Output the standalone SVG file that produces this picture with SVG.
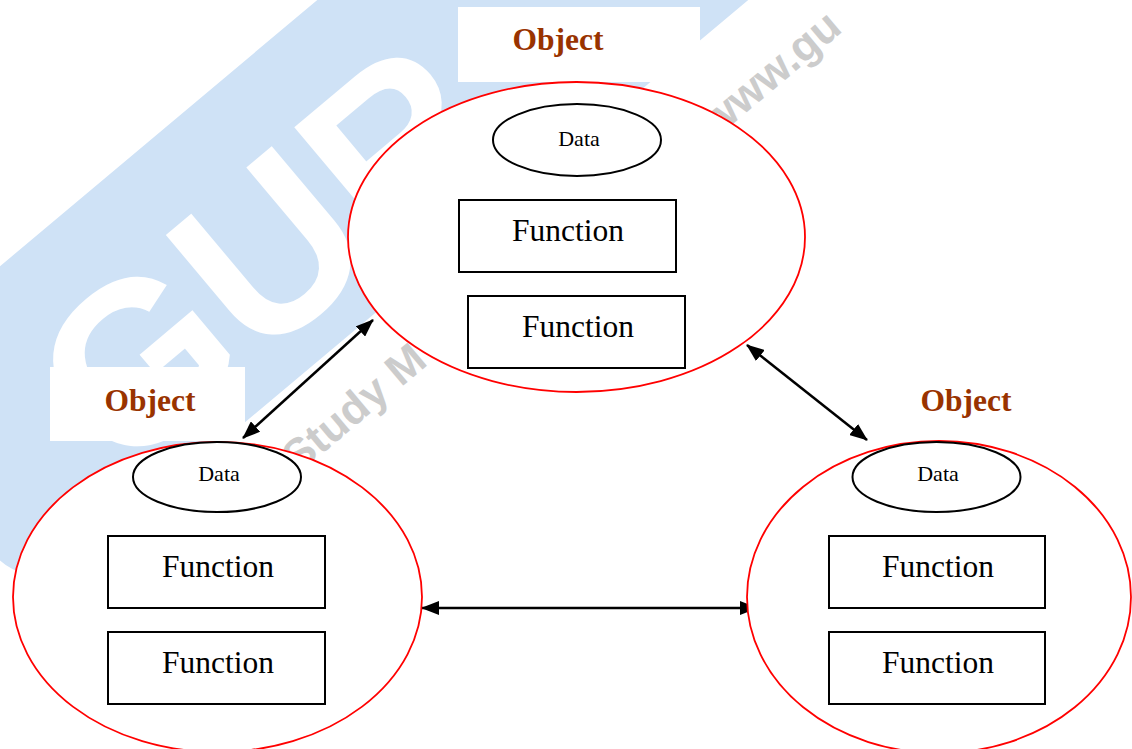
<svg xmlns="http://www.w3.org/2000/svg" width="1132" height="749" viewBox="0 0 1132 749">
<style>
.obj{fill:#fff;stroke:#ff0000;stroke-width:1.8}
.data{fill:#fff;stroke:#000;stroke-width:2}
.fn{fill:#fff;stroke:#000;stroke-width:2}
.t{font-family:"Liberation Serif","Times New Roman",serif;fill:#000;text-anchor:middle}
.ft{font-size:31.5px}
.dt{font-size:22px}
.ot{font-size:31.5px;font-weight:bold;fill:#993300}
.conn{stroke:#000;stroke-width:2.5;fill:none;marker-start:url(#ah);marker-end:url(#ah)}
.wm{font-family:"Liberation Sans",Arial,sans-serif;font-weight:bold}
</style>
<defs>
<marker id="ah" viewBox="0 0 18 14" refX="17" refY="7" markerWidth="18" markerHeight="14" markerUnits="userSpaceOnUse" orient="auto-start-reverse">
<path d="M0,0 L18,7 L0,14 Z" fill="#000"/>
</marker>
</defs>
<rect width="1132" height="749" fill="#fff"/>
<g id="watermark">
<g transform="translate(134,441) rotate(-40)">
<rect x="-180" y="-220" width="1400" height="277" rx="60" fill="#cfe2f6"/>
</g>
<text class="wm" font-size="230" fill="#ffffff" transform="translate(120,480) rotate(-40)">GUR</text>
<text class="wm" font-size="44" fill="#cccccc" transform="translate(298,474) rotate(-40)">Study M</text>
<text class="wm" font-size="44" fill="#cccccc" transform="translate(716,138) rotate(-40)">www.gu</text>
<rect x="458" y="7" width="242" height="75" fill="#fff"/>
<rect x="50" y="367" width="195" height="74" fill="#fff"/>
</g>
<g id="connectors">
<line class="conn" x1="243" y1="438" x2="373" y2="320"/>
<line class="conn" x1="747" y1="345" x2="867" y2="440"/>
<line class="conn" x1="422" y1="608" x2="757" y2="608"/>
</g>
<g id="object-top">
<text class="t ot" x="558" y="50">Object</text>
<ellipse class="obj" cx="576.5" cy="237" rx="228.5" ry="155"/>
<ellipse class="data" cx="577" cy="140" rx="84" ry="36"/>
<text class="t dt" x="579" y="146">Data</text>
<rect class="fn" x="459" y="200" width="217" height="72"/>
<text class="t ft" x="568" y="241">Function</text>
<rect class="fn" x="468" y="296" width="217" height="72"/>
<text class="t ft" x="578" y="337">Function</text>
</g>
<g id="object-left">
<text class="t ot" x="150" y="411">Object</text>
<ellipse class="obj" cx="217.5" cy="597" rx="204.5" ry="155"/>
<ellipse class="data" cx="217" cy="477" rx="84" ry="35"/>
<text class="t dt" x="219" y="481">Data</text>
<rect class="fn" x="108" y="536" width="217" height="72"/>
<text class="t ft" x="218" y="577">Function</text>
<rect class="fn" x="108" y="632" width="217" height="72"/>
<text class="t ft" x="218" y="673">Function</text>
</g>
<g id="object-right">
<text class="t ot" x="966" y="411">Object</text>
<ellipse class="obj" cx="939" cy="597" rx="192" ry="156"/>
<ellipse class="data" cx="936.5" cy="477" rx="84" ry="35"/>
<text class="t dt" x="938" y="481">Data</text>
<rect class="fn" x="829" y="536" width="216" height="72"/>
<text class="t ft" x="938" y="577">Function</text>
<rect class="fn" x="829" y="632" width="216" height="72"/>
<text class="t ft" x="938" y="673">Function</text>
</g>
</svg>
